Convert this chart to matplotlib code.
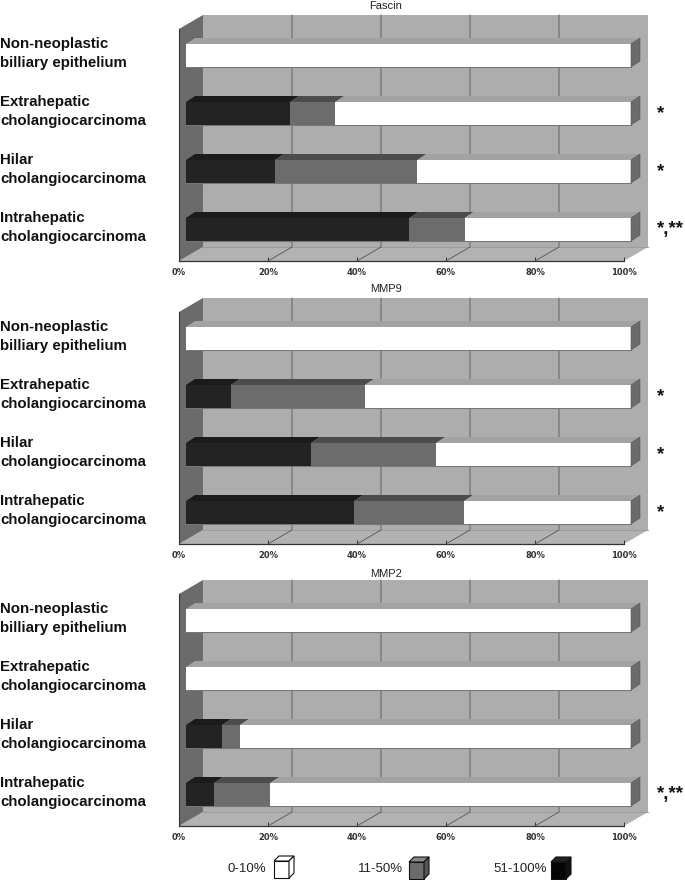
import matplotlib
matplotlib.use("Agg")
from matplotlib import pyplot as plt
from matplotlib.patches import Polygon

plt.rcParams['font.family'] = ['Liberation Sans', 'DejaVu Sans']

categories = ["Non-neoplastic\nbilliary epithelium",
              "Extrahepatic\ncholangiocarcinoma",
              "Hilar\ncholangiocarcinoma",
              "Intrahepatic\ncholangiocarcinoma"]
panel_names = ["Fascin", "MMP9", "MMP2"]

# percent of cases per category, one list per staining class
high_fascin = [0, 23.4, 20.0, 50.2]
mid_fascin = [0, 10.1, 32.0, 12.4]
low_fascin = [100, 66.5, 48.0, 37.4]

high_mmp9 = [0, 10.1, 28.1, 37.8]
mid_mmp9 = [0, 30.1, 28.1, 24.7]
low_mmp9 = [100, 59.8, 43.8, 37.5]

high_mmp2 = [0, 0, 8.1, 6.3]
mid_mmp2 = [0, 0, 4.0, 12.6]
low_mmp2 = [100, 100, 87.9, 81.1]

stars_fascin = ["", "*", "*", "*,**"]
stars_mmp9 = ["", "*", "*", "*"]
stars_mmp2 = ["", "", "", "*,**"]

ticks = [0, 20, 40, 60, 80, 100]
tick_labels = ["0%", "20%", "40%", "60%", "80%", "100%"]
legend_labels = ["0-10%", "11-50%", "51-100%"]

W, H = 685, 880
PX_X = 4.45    # pixels per percent
PX_Y = 58.0    # pixels per category
WALL = "#adadad"
SIDE = "#6b6b6b"
FRONT = {"low": "#ffffff", "mid": "#6c6c6c", "high": "#232323"}
TOP = {"low": "#a2a2a2", "mid": "#4c4c4c", "high": "#1b1b1b"}

fig = plt.figure(figsize=(W / 100, H / 100), dpi=100)


def draw_panel(name, high, mid, low, stars, shift, title_pad):
    base_px, top_px = 261 + shift, 15 + shift
    ax = fig.add_axes([179 / W, 1 - base_px / H, 445 / W, (base_px - top_px) / H])
    ax.set_xlim(0, 100)
    ax.set_ylim((base_px - 55.5 - shift) / PX_Y, (top_px - 55.5 - shift) / PX_Y)
    y_base, y_top = ax.get_ylim()
    wall_dx = 24 / PX_X
    wall_dy = 14 / PX_Y
    bar_dx = 9 / PX_X
    bar_dy = 6 / PX_Y
    bar_h = 23 / PX_Y
    x_off = 7 / PX_X

    # back wall, floor, left wall
    ax.add_patch(Polygon([(wall_dx, y_top), (100 + wall_dx, y_top),
                          (100 + wall_dx, y_base - wall_dy), (wall_dx, y_base - wall_dy)],
                         fc=WALL, ec="none", clip_on=False, zorder=1))
    ax.add_patch(Polygon([(0, y_base), (100, y_base), (100 + wall_dx, y_base - wall_dy),
                          (wall_dx, y_base - wall_dy)],
                         fc="#b2b2b2", ec="none", clip_on=False, zorder=1))
    ax.add_patch(Polygon([(0, y_top + wall_dy), (wall_dx, y_top),
                          (wall_dx, y_base - wall_dy), (0, y_base)],
                         fc=SIDE, ec="none", clip_on=False, zorder=1))
    ax.plot([0, 0], [y_top + wall_dy, y_base], color="#333333", lw=0.8, clip_on=False, zorder=2)
    ax.plot([wall_dx, 100 + wall_dx], [y_base - wall_dy] * 2, color="#9c9c9c", lw=0.7,
            clip_on=False, zorder=2)

    for t in ticks[1:-1]:
        ax.plot([t + wall_dx, t + wall_dx, t], [y_top, y_base - wall_dy, y_base],
                color="#555555", lw=0.6, clip_on=False, zorder=2)

    # stacked bars, front face and top face
    for i, cat in enumerate(categories):
        left = x_off
        for key, val in (("high", high[i]), ("mid", mid[i]), ("low", low[i])):
            if val == 0:
                continue
            ax.barh(i, val, height=bar_h, left=left, color=FRONT[key], zorder=4, clip_on=False)
            y_up = i - bar_h / 2
            ax.add_patch(Polygon([(left, y_up), (left + val, y_up),
                                  (left + val + bar_dx, y_up - bar_dy), (left + bar_dx, y_up - bar_dy)],
                                 fc=TOP[key], ec="none", clip_on=False, zorder=3))
            left += val
        ax.add_patch(Polygon([(left, i - bar_h / 2), (left + bar_dx, i - bar_h / 2 - bar_dy),
                              (left + bar_dx, i + bar_h / 2 - bar_dy), (left, i + bar_h / 2)],
                             fc=SIDE, ec="#555555", lw=0.4, clip_on=False, zorder=5))
        ax.plot([x_off, left], [i + bar_h / 2] * 2, color="#777777", lw=0.8, clip_on=False, zorder=3)
        ax.text(-40.2, i - 0.035, cat, fontsize=10.8, fontweight="bold", ha="left", va="center",
                linespacing=1.4, color="#111111")
        if stars[i]:
            ax.text(107.3, i, stars[i], fontsize=13.5, fontweight="bold", ha="left",
                    va="center", color="#111111")

    ax.set_xticks(ticks)
    ax.set_xticklabels(tick_labels, fontsize=6, family="DejaVu Sans", fontweight="bold", color="#333333")
    ax.tick_params(axis="x", direction="in", length=3, width=0.7, pad=5, color="#333333", zorder=6)
    ax.set_yticks([])
    for s in ("top", "left", "right"):
        ax.spines[s].set_visible(False)
    ax.spines["bottom"].set_color("#333333")
    ax.spines["bottom"].set_linewidth(0.9)
    ax.patch.set_visible(False)
    ax.set_title(name, x=207 / 445, fontsize=8, pad=title_pad, color="#222222")


draw_panel(panel_names[0], high_fascin, mid_fascin, low_fascin, stars_fascin, 0, 4)
draw_panel(panel_names[1], high_mmp9, mid_mmp9, low_mmp9, stars_mmp9, 283, 4)
draw_panel(panel_names[2], high_mmp2, mid_mmp2, low_mmp2, stars_mmp2, 565, 2)

# legend, in pixel coordinates
lg = fig.add_axes([0, 0, 1, 1])
lg.set_xlim(0, W)
lg.set_ylim(H, 0)
lg.axis("off")
for label, tx, cx, cy, keys in zip(legend_labels, (228, 358, 493), (274, 409, 551), (878, 879, 879), ("w", "g", "k")):
    lg.text(tx, 868.5, label, fontsize=9.5, va="center", ha="left", color="#222222")
    front = {"w": "#ffffff", "g": "#6c6c6c", "k": "#050505"}[keys]
    top = {"w": "#ffffff", "g": "#888888", "k": "#222222"}[keys]
    side = {"w": "#ffffff", "g": "#555555", "k": "#111111"}[keys]
    lg.add_patch(Polygon([(cx, cy - 17), (cx + 15, cy - 17), (cx + 15, cy), (cx, cy)], fc=front, ec="#111111", lw=0.8))
    lg.add_patch(Polygon([(cx, cy - 17), (cx + 5, cy - 22), (cx + 20, cy - 22), (cx + 15, cy - 17)], fc=top, ec="#111111", lw=0.8))
    lg.add_patch(Polygon([(cx + 15, cy - 17), (cx + 20, cy - 22), (cx + 20, cy - 5), (cx + 15, cy)], fc=side, ec="#111111", lw=0.8))

fig.savefig("out.png", dpi=100)
